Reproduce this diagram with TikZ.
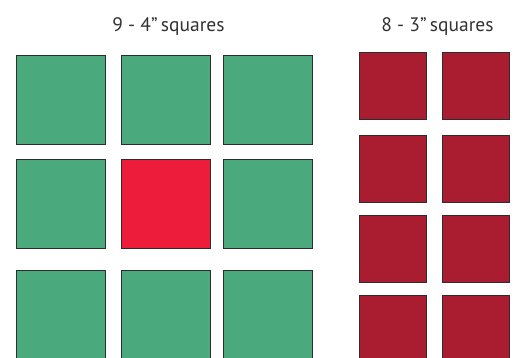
\documentclass[tikz,border=0pt]{standalone}
\usepackage{fontspec}
\setmainfont{PT Sans}
\usepackage{tikz}
\definecolor{tilegreen}{RGB}{74,170,126}
\definecolor{tilered}{RGB}{236,28,58}
\definecolor{tilewine}{RGB}{170,28,48}
\definecolor{edgegray}{RGB}{45,45,45}
\definecolor{textgray}{RGB}{50,50,50}
\tikzset{
  tile/.style={draw=edgegray, line width=0.9pt, inner sep=0, outer sep=0, anchor=north west},
  bigtile/.style={tile, fill=tilegreen, minimum size=89pt},
  smalltile/.style={tile, fill=tilewine, minimum size=67pt},
  heading/.style={text=textgray, anchor=base, inner sep=0, font=\fontsize{19.5}{22}\selectfont}
}

\begin{document}
\begin{tikzpicture}[x=1pt,y=-1pt]
\useasboundingbox (0,0) rectangle (515,358);
\begin{scope}
\clip (0,0) rectangle (515,358);
% 3 x 3 grid of 4" squares
\foreach \y [count=\r] in {55,159,270} {
  \foreach \x [count=\c] in {16,121,223} {
    \node[bigtile] (big-\r-\c) at (\x,\y) {};
  };
};
\node[bigtile, fill=tilered] (big-2-2) at (121,159) {};
% 4 x 2 grid of 3" squares
\foreach \y [count=\r] in {52,135,215,295} {
  \foreach \x [count=\c] in {359,442} {
    \node[smalltile] (small-\r-\c) at (\x,\y) {};
  };
};
\end{scope}
\node[heading] (bigtitle) at (168.5,32) {9 - 4\textquotedblright\,squares};
\node[heading] (smalltitle) at (437.5,32) {8 - 3\textquotedblright\,squares};
\end{tikzpicture}
\end{document}
